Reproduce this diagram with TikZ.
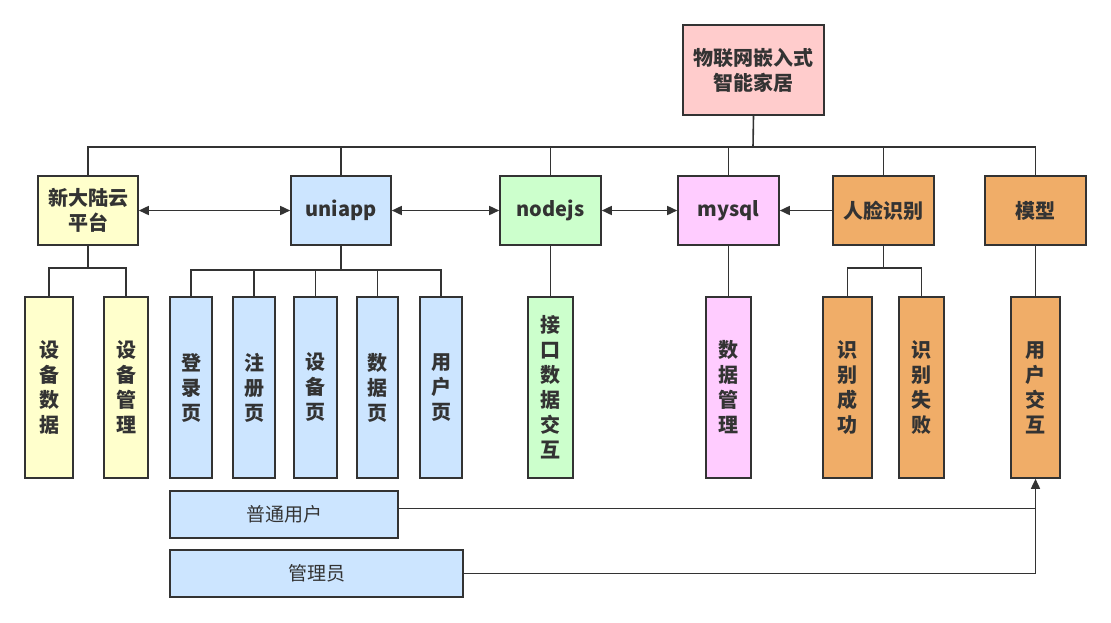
\documentclass[tikz,border=0pt]{standalone}
\usepackage{fontspec}
\setmainfont{Noto Sans CJK SC}
\usetikzlibrary{arrows.meta}
\definecolor{lineC}{HTML}{333333}
\definecolor{cRed}{HTML}{FFCCCC}
\definecolor{cYel}{HTML}{FFFFCC}
\definecolor{cBlu}{HTML}{CCE5FF}
\definecolor{cGrn}{HTML}{CCFFCC}
\definecolor{cPnk}{HTML}{FFCCFF}
\definecolor{cOra}{HTML}{F0AD68}
\begin{document}
\begin{tikzpicture}[x=1pt,y=-1pt,
  box/.style={draw=lineC,line width=1.6pt,inner sep=0pt,font=\fontsize{20}{25}\selectfont\bfseries,text=lineC,align=center},
  conn/.style={draw=lineC,line width=1.6pt},
  arr/.style={conn,-{Triangle[length=10pt,width=9pt]}},
  barr/.style={conn,{Triangle[length=10pt,width=9pt]}-{Triangle[length=10pt,width=9pt]}}
]
\useasboundingbox (0,0) rectangle (1111,622);
% top
\node[box,fill=cRed,minimum width=141pt,minimum height=90pt] (top) at (753.5,70) {物联网嵌入式\\智能家居};
% level 2
\node[box,fill=cYel,minimum width=100pt,minimum height=69pt] (xdl) at (88,210.5) {新大陆云\\平台};
\node[box,fill=cBlu,minimum width=100pt,minimum height=69pt] (uni) at (341,210.5) {uniapp};
\node[box,fill=cGrn,minimum width=101pt,minimum height=69pt] (node) at (550.5,210.5) {nodejs};
\node[box,fill=cPnk,minimum width=101pt,minimum height=69pt] (sql) at (728.5,210.5) {mysql};
\node[box,fill=cOra,minimum width=101pt,minimum height=69pt] (face) at (883.5,210.5) {人脸识别};
\node[box,fill=cOra,minimum width=101pt,minimum height=69pt] (model) at (1035.5,210.5) {模型};
% level 3
\node[box,fill=cYel,minimum width=48pt,minimum height=181pt] (sbsj) at (49,387.5) {设\\备\\数\\据};
\node[box,fill=cYel,minimum width=44pt,minimum height=181pt] (sbgl) at (126,387.5) {设\\备\\管\\理};
\node[box,fill=cBlu,minimum width=42pt,minimum height=181pt] (dly) at (191,387.5) {登\\录\\页};
\node[box,fill=cBlu,minimum width=42pt,minimum height=181pt] (zcy) at (254,387.5) {注\\册\\页};
\node[box,fill=cBlu,minimum width=43pt,minimum height=181pt] (sby) at (315.5,387.5) {设\\备\\页};
\node[box,fill=cBlu,minimum width=41pt,minimum height=181pt] (sjy) at (377.5,387.5) {数\\据\\页};
\node[box,fill=cBlu,minimum width=42pt,minimum height=181pt] (yhy) at (441,387.5) {用\\户\\页};
\node[box,fill=cGrn,minimum width=45pt,minimum height=181pt] (jk) at (550.5,387.5) {接\\口\\数\\据\\交\\互};
\node[box,fill=cPnk,minimum width=45pt,minimum height=181pt] (sjgl) at (728.5,387.5) {数\\据\\管\\理};
\node[box,fill=cOra,minimum width=49pt,minimum height=181pt] (sbcg) at (847.5,387.5) {识\\别\\成\\功};
\node[box,fill=cOra,minimum width=45pt,minimum height=181pt] (sbsb) at (921.5,387.5) {识\\别\\失\\败};
\node[box,fill=cOra,minimum width=49pt,minimum height=181pt] (yhjh) at (1035.5,387.5) {用\\户\\交\\互};
% users
\node[box,fill=cBlu,minimum width=228pt,minimum height=47pt,font=\fontsize{19}{22}\selectfont] (pt) at (284,514.5) {普通用户};
\node[box,fill=cBlu,minimum width=293pt,minimum height=47pt,font=\fontsize{19}{22}\selectfont] (gly) at (316.5,573.5) {管理员};
% tree from top
\coordinate (hb) at (753,147);
\draw[conn] (top.south) -- (hb);
\draw[conn] (xdl.north) |- (model.north |- hb) -- (model.north);
\foreach \n in {uni,node,sql,face}{\draw[conn] (\n.north) -- (\n.north |- hb);}
% arrows
\draw[barr] (xdl.east) -- (uni.west);
\draw[barr] (uni.east) -- (node.west);
\draw[barr] (node.east) -- (sql.west);
\draw[arr] (face.west) -- (sql.east);
% xdl children
\draw[conn] (xdl.south) -- (88,268);
\draw[conn] (sbsj.north) |- (88,268) -| (sbgl.north);
% uni children
\draw[conn] (uni.south) -- (341,270);
\draw[conn] (dly.north) |- (341,270) -| (yhy.north);
\foreach \n in {zcy,sby,sjy}{\draw[conn] (\n.north) -- (\n.north |- 0,270);}
% single
\draw[conn] (node.south) -- (jk.north);
\draw[conn] (sql.south) -- (sjgl.north);
\draw[conn] (model.south) -- (yhjh.north);
% face children
\draw[conn] (face.south) -- (883.5,268);
\draw[conn] (sbcg.north) |- (883.5,268) -| (sbsb.north);
% users to model
\coordinate (ptout) at ([yshift=6pt]pt.east);
\draw[arr] (ptout) -| (yhjh.south);
\draw[conn] (gly.east) -| (yhjh.south |- ptout);
\end{tikzpicture}
\end{document}
